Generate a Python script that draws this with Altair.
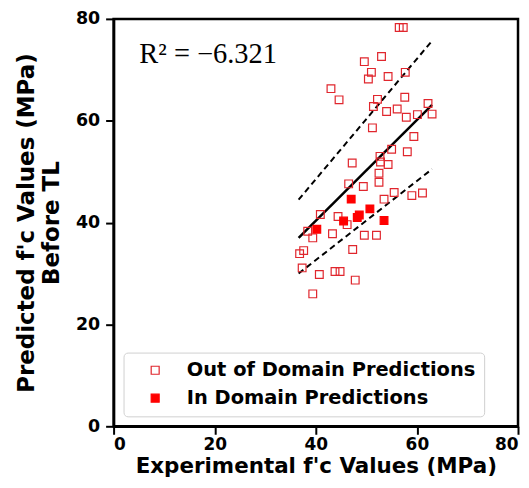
import altair as alt
import pandas as pd

# Out of Domain Predictions (hollow squares)
out_x = [56.5, 57.3, 49.6, 53.0, 51.0, 50.4, 54.3, 57.7, 43.0, 44.6, 52.2, 57.6,
         51.4, 54.0, 56.1, 57.9, 60.1, 62.2, 63.0, 51.2, 59.4, 55.0, 58.1, 52.7,
         52.8, 47.2, 54.3, 52.5, 52.5, 46.5, 49.4, 53.5, 55.5, 59.0, 61.1, 40.9,
         44.4, 46.2, 38.4, 39.4, 43.3, 49.6, 52.0, 47.3, 37.6, 36.8, 37.3, 40.7,
         43.8, 44.8, 47.8, 39.4]
out_y = [78.3, 78.3, 71.6, 72.6, 69.5, 68.2, 68.7, 69.5, 66.3, 64.1, 64.2, 64.6,
         62.8, 61.8, 62.3, 60.7, 61.2, 63.4, 61.3, 58.6, 56.9, 54.4, 53.9, 53.0,
         51.9, 51.7, 51.4, 49.7, 47.9, 47.6, 47.1, 44.6, 45.9, 45.3, 45.8, 41.6,
         41.2, 39.6, 38.3, 37.0, 37.8, 37.5, 37.5, 34.7, 34.5, 33.9, 31.1, 29.8,
         30.4, 30.4, 28.7, 26.0]

# In Domain Predictions (filled squares)
in_x = [40.2, 45.5, 47.0, 48.2, 48.6, 50.7, 53.5]
in_y = [38.7, 40.3, 44.6, 41.0, 41.5, 42.7, 40.4]

# Reference lines (endpoints)
line_x = [36.6, 63.0]
fit_y = [37.0, 63.1]
upper_y = [44.5, 75.7]
lower_y = [30.0, 50.5]

groups = ["Out of Domain Predictions", "In Domain Predictions"]

pts = pd.DataFrame({
    "x": out_x + in_x,
    "y": out_y + in_y,
    "group": [groups[0]] * len(out_x) + [groups[1]] * len(in_x),
})
lines = pd.DataFrame({"x": line_x, "fit": fit_y, "upper": upper_y, "lower": lower_y})
ann = pd.DataFrame({"x": [5.1], "y": [71.4], "t": ["R\u00b2 = \u22126.321"]})

xs = alt.Scale(domain=[0, 80], nice=False, zero=False)
ys = alt.Scale(domain=[0, 80], nice=False, zero=False)

xax = alt.Axis(values=[0, 20, 40, 60, 80], title="Experimental f'c Values (MPa)", grid=False,
               titleFontSize=21.5, titlePadding=3, labelPadding=2, labelFontSize=17)
yax = alt.Axis(values=[0, 20, 40, 60, 80], title=["Predicted f'c Values (MPa)", "Before TL"], grid=False,
               titleFontSize=23, titlePadding=12, titleLineHeight=25, labelPadding=6)

base = alt.Chart(lines)
solid = base.mark_line(color="black", strokeWidth=2.5).encode(
    x=alt.X("x:Q", scale=xs, axis=xax), y=alt.Y("fit:Q", scale=ys, axis=yax))
up = base.mark_line(color="black", strokeWidth=2, strokeDash=[6, 4]).encode(
    x=alt.X("x:Q", scale=xs), y=alt.Y("upper:Q", scale=ys))
lo = base.mark_line(color="black", strokeWidth=2, strokeDash=[6, 4]).encode(
    x=alt.X("x:Q", scale=xs), y=alt.Y("lower:Q", scale=ys))

points = alt.Chart(pts).mark_point(shape="square", size=60, strokeWidth=1.2, opacity=1).encode(
    x=alt.X("x:Q", scale=xs),
    y=alt.Y("y:Q", scale=ys),
    fill=alt.Fill("group:N",
                  scale=alt.Scale(domain=groups, range=["rgba(0,0,0,0)", "#ff0000"]),
                  legend=alt.Legend(title=None, orient="none", legendX=10, legendY=335,
                                    symbolType="square", symbolSize=64,
                                    symbolStrokeColor="#e0262d", symbolStrokeWidth=1.2,
                                    symbolOffset=14, labelOffset=22, labelLimit=0,
                                    labelFont="DejaVu Sans", labelFontWeight="bold",
                                    labelFontSize=19.5, labelColor="black",
                                    rowPadding=7, padding=8,
                                    fillColor="white", strokeColor="#d0d0d0",
                                    cornerRadius=4)),
    stroke=alt.Stroke("group:N",
                      scale=alt.Scale(domain=groups, range=["#e0262d", "#ff0000"]),
                      legend=None),
)

text = alt.Chart(ann).mark_text(align="left", baseline="alphabetic", font="Liberation Serif",
                                fontSize=28.5, color="black").encode(
    x=alt.X("x:Q", scale=xs), y=alt.Y("y:Q", scale=ys), text="t:N")

chart = alt.layer(up, lo, solid, points, text).properties(
    width=406, height=409,
    autosize=alt.AutoSizeParams(type="none"),
    padding={"left": 106, "top": 10, "right": 3, "bottom": 55},
).configure_view(stroke="black", strokeWidth=2.5).configure_axis(
    domainColor="black", domainWidth=2.5, tickColor="black", tickWidth=2, tickSize=8,
    labelFont="DejaVu Sans", labelFontWeight="bold", labelFontSize=17.5, labelColor="black",
    titleFont="DejaVu Sans", titleFontWeight="bold",
    titleColor="black",
)

chart.save("out.html", embed_options={"renderer": "svg", "actions": False})
